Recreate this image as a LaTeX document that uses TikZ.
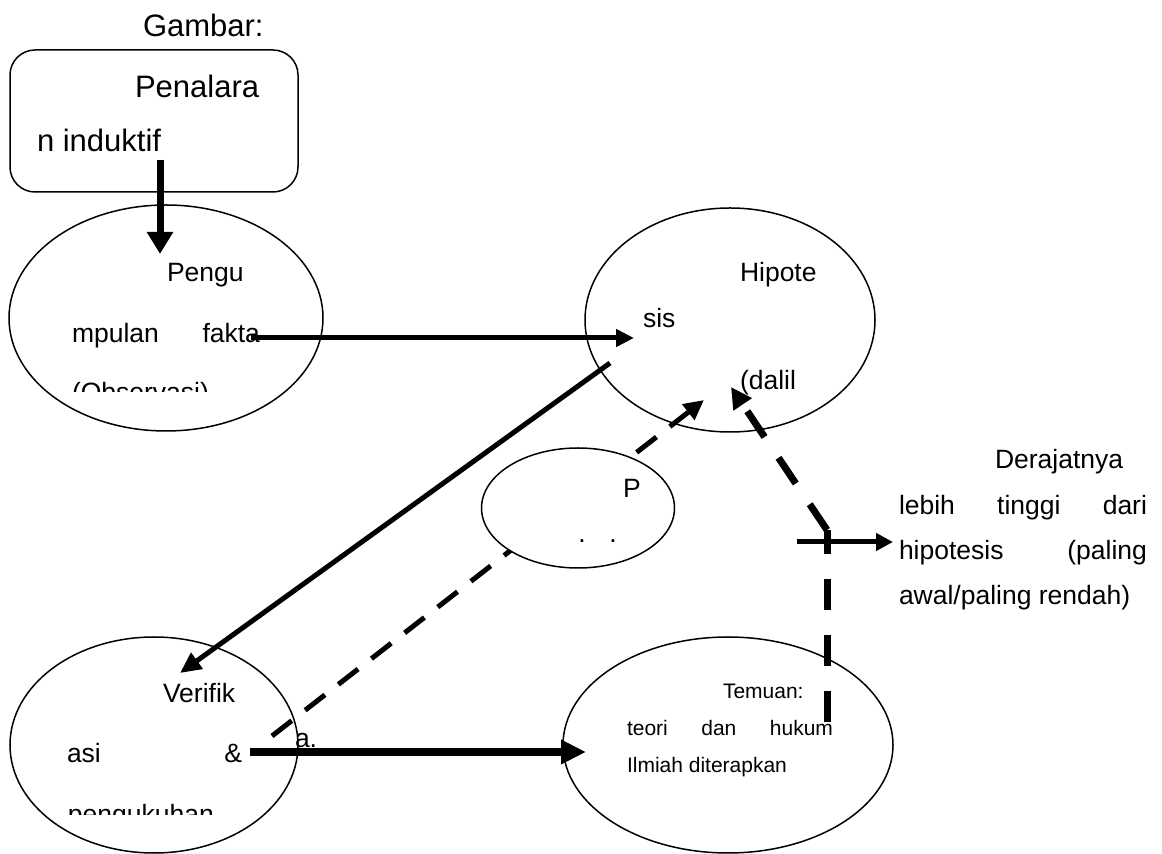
\documentclass[tikz,border=0pt]{standalone}
\usepackage{fontspec}
\setmainfont{Liberation Sans}
\usetikzlibrary{arrows.meta,shapes.geometric}
\begin{document}
\begin{tikzpicture}[x=0.5pt,y=-0.5pt,
  ell/.style={draw,ellipse,line width=0.75pt,inner sep=0pt,outer sep=0pt},
  tmid/.style={anchor=base west,inner sep=0pt,outer sep=0pt,font=\fontsize{13.25pt}{15pt}\selectfont},
  tbig/.style={tmid,font=\fontsize{15.5pt}{18pt}\selectfont},
  tsmall/.style={tmid,font=\fontsize{10.5pt}{12pt}\selectfont},
  solidarrow/.style={line width=#1},
  dashA/.style={line width=2.5pt,dash pattern=on 12.5pt off 8.5pt},
  dashB/.style={line width=3.5pt,dash pattern=on 15.5pt off 12.5pt},
]
\useasboundingbox (0,0) rectangle (1162,854);

% box
\node[tbig] (gambar) at (143,37) {Gambar:};
\draw[line width=0.75pt,rounded corners=12.5pt] (10,50) rectangle (298,192);
\coordinate (boxc) at (154,121);
\node[tbig] (pen1) at (135,98) {Penalara};
\node[tbig] (pen2) at (37,152) {n induktif};

% ellipses
\node[ell,minimum width=157pt,minimum height=113pt] (e1) at (166,318) {};
\node[ell,minimum width=145pt,minimum height=112pt] (e2) at (730,320) {};
\node[ell,minimum width=144pt,minimum height=108pt] (e4) at (154,745) {};
\node[ell,minimum width=165pt,minimum height=108pt] (e5) at (728,745) {};

% ellipse texts
\node[tmid] (t1a) at (167,282) {Pengu};
\node[tmid] (t1b) at (72,343) {\makebox[94pt][s]{mpulan fakta}};
\begin{scope}
  \clip (0,0) rectangle (1162,392);
  \node[tmid] (t1c) at (72,402) {(Observasi)};
\end{scope}
\node[tmid] (t2a) at (740,282) {Hipote};
\node[tmid] (t2b) at (643,328) {sis};
\node[tmid] (t2c) at (740,390) {(dalil};
\node[tmid] (t4a) at (163,703) {Verifik};
\node[tmid] (t4b) at (67,763) {\makebox[87.5pt][s]{asi \&}};
\begin{scope}
  \clip (0,0) rectangle (1162,815);
  \node[tmid] (t4c) at (68,824) {pengukuhan};
\end{scope}
\node[tmid] (t4d) at (295,748) {a.};
\node[tsmall] (t5a) at (723,699) {Temuan:};
\node[tsmall] (t5b) at (627,736) {\makebox[103pt][s]{teori dan hukum}};
\node[tsmall] (t5c) at (627,773) {Ilmiah diterapkan};

% right text
\node[tmid] (r1) at (995,469) {Derajatnya};
\node[tmid] (r2) at (899,515) {\makebox[124pt][s]{lebih tinggi dari}};
\node[tmid] (r3) at (899,560) {\makebox[124pt][s]{hipotesis (paling}};
\node[tmid] (r4) at (899,605) {awal/paling rendah)};

% coordinates
\coordinate (a1s) at (160,160);
\coordinate (a1e) at (160,254);
\coordinate (a2s) at (251,338);
\coordinate (a2e) at (634,338);
\coordinate (a3s) at (610,363);
\coordinate (a3e) at (180,673);
\coordinate (a4s) at (250,752);
\coordinate (a4e) at (586,752);
\coordinate (d1s) at (272,736);
\coordinate (d1e) at (704,400);
\coordinate (d2s) at (827,722);
\coordinate (bend) at (827,530);
\coordinate (d2e) at (731,387);
\coordinate (a5s) at (797,542);
\coordinate (a5e) at (893,542);

% connectors
\draw[line width=3.5pt,-{Triangle[length=11pt,width=12.5pt]}] (a1s) -- (a1e);
\draw[line width=2.5pt,-{Triangle[length=9pt,width=8.5pt]}] (a2s) -- (a2e);
\draw[line width=2.5pt,-{Triangle[length=10.5pt,width=9.5pt]}] (a3s) -- (a3e);
\draw[line width=4pt,-{Triangle[length=12.5pt,width=11.5pt]}] (a4s) -- (a4e);
\draw[dashA,-{Triangle[length=10pt,width=9.5pt]}] (d1s) -- (d1e);
\draw[dashB] (d2s) -- (bend);
\draw[dashB,-{Triangle[length=10.5pt,width=10.5pt]}] (bend) -- (d2e);
\draw[line width=2.5pt,-{Triangle[length=8.5pt,width=8.5pt]}] (a5s) -- (a5e);

% small ellipse on top
\node[ell,fill=white,minimum width=96.5pt,minimum height=60pt] (e3) at (578,508) {};
\node[tmid] (t3a) at (623,498) {P};
\node[tmid,anchor=base] (t3b) at (582,543) {.};
\node[tmid,anchor=base] (t3c) at (613,543) {.};
\end{tikzpicture}
\end{document}
